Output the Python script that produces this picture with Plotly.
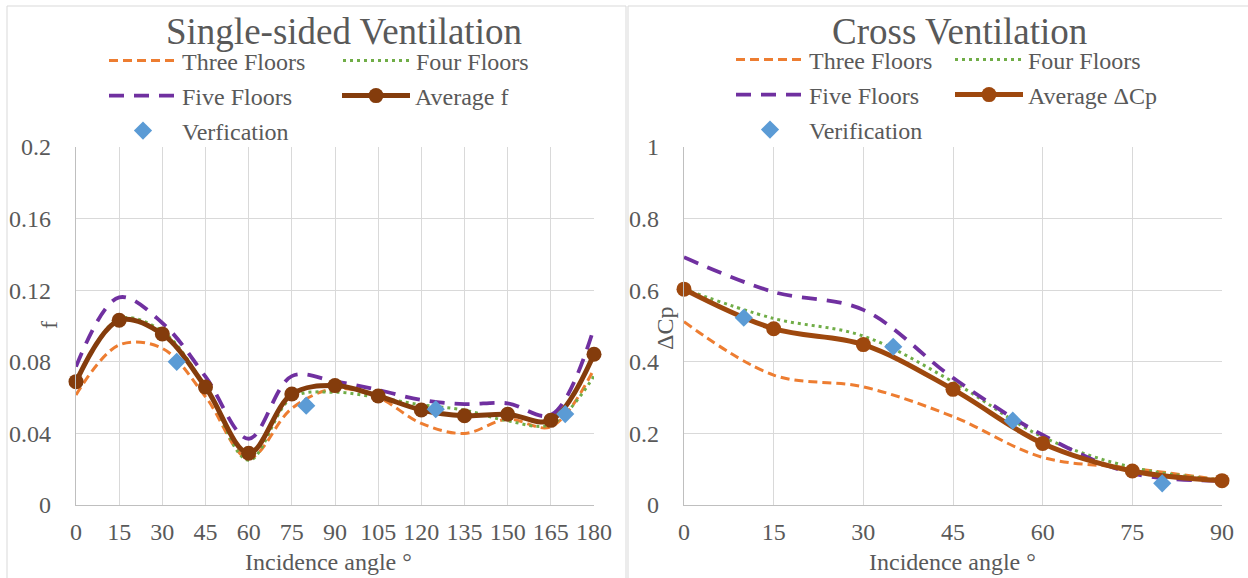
import plotly.graph_objects as go

# ---------------- data ----------------
angles_single = [0, 15, 30, 45, 60, 75, 90, 105, 120, 135, 150, 165, 180]
single_three = [0.0615, 0.0894, 0.0875, 0.0605, 0.0261, 0.054, 0.065, 0.060, 0.0456, 0.040, 0.048, 0.0437, 0.076]
single_four = [0.068, 0.104, 0.097, 0.066, 0.025, 0.060, 0.063, 0.060, 0.056, 0.053, 0.047, 0.045, 0.072]
single_five = [0.0773, 0.116, 0.1017, 0.0717, 0.037, 0.072, 0.069, 0.0643, 0.0587, 0.0564, 0.0568, 0.0503, 0.099]
single_avg = [0.0689, 0.1032, 0.0955, 0.0659, 0.0289, 0.062, 0.0667, 0.0609, 0.0531, 0.0499, 0.0507, 0.0473, 0.0842]
single_verif_x = [35, 80, 125, 170]
single_verif_y = [0.080, 0.0555, 0.0535, 0.0508]
single_yticks = [0, 0.04, 0.08, 0.12, 0.16, 0.2]
single_yticktext = ["0", "0.04", "0.08", "0.12", "0.16", "0.2"]

angles_cross = [0, 15, 30, 45, 60, 75, 90]
cross_three = [0.512, 0.363, 0.330, 0.247, 0.133, 0.1025, 0.070]
cross_four = [0.603, 0.521, 0.472, 0.344, 0.190, 0.105, 0.070]
cross_five = [0.692, 0.595, 0.545, 0.355, 0.1955, 0.0885, 0.068]
cross_avg = [0.603, 0.4925, 0.448, 0.323, 0.172, 0.095, 0.068]
cross_verif_x = [10, 35, 55, 80]
cross_verif_y = [0.523, 0.442, 0.2355, 0.0606]
cross_yticks = [0, 0.2, 0.4, 0.6, 0.8, 1]
cross_yticktext = ["0", "0.2", "0.4", "0.6", "0.8", "1"]

W, H = 1248, 578
FONT = "Liberation Serif"
TXT = "#595959"
ORANGE = "#ED7D31"
GREEN = "#70AD47"
PURPLE = "#7030A0"
BROWN_L = "#843C0C"
BROWN_R = "#9E480E"
BLUE = "#5B9BD5"


def px_x(p):
    return p / W


def px_y(p):
    return 1 - p / H


fig = go.Figure()


def add_series(xs, ys, name, color, dash, width, legend, axis, mode="lines", marker=None):
    kw = dict(x=xs, y=ys, name=name, mode=mode, legend=legend,
              xaxis=axis[0], yaxis=axis[1], cliponaxis=False, hoverinfo="skip")
    if "lines" in mode:
        kw["line"] = dict(color=color, dash=dash, width=width, shape="spline", smoothing=1.0)
    if marker is not None:
        kw["marker"] = marker
    fig.add_trace(go.Scatter(**kw))


# Left chart
ax1 = ("x", "y")
add_series(angles_single, single_three, "Three Floors", ORANGE, "9px,5px", 3, "legend", ax1)
add_series(angles_single, single_four, "Four Floors", GREEN, "3px,4px", 3, "legend2", ax1)
add_series(angles_single, single_five, "Five Floors", PURPLE, "15px,10px", 3.8, "legend3", ax1)
add_series(angles_single, single_avg, "Average f", BROWN_L, None, 5, "legend4", ax1,
           mode="lines+markers", marker=dict(symbol="circle", size=15, color=BROWN_L))
add_series(single_verif_x, single_verif_y, "Verfication", BLUE, None, 0, "legend5", ax1,
           mode="markers", marker=dict(symbol="diamond", size=14, color=BLUE))

# Right chart
ax2 = ("x2", "y2")
add_series(angles_cross, cross_three, "Three Floors", ORANGE, "9px,5px", 3, "legend6", ax2)
add_series(angles_cross, cross_four, "Four Floors", GREEN, "3px,4px", 3, "legend7", ax2)
add_series(angles_cross, cross_five, "Five Floors", PURPLE, "15px,10px", 3.8, "legend8", ax2)
add_series(angles_cross, cross_avg, "Average \u0394Cp", BROWN_R, None, 5, "legend9", ax2,
           mode="lines+markers", marker=dict(symbol="circle", size=15, color=BROWN_R))
add_series(cross_verif_x, cross_verif_y, "Verification", BLUE, None, 0, "legend10", ax2,
           mode="markers", marker=dict(symbol="diamond", size=14, color=BLUE))

axis_common = dict(
    showgrid=True, gridcolor="#D9D9D9", gridwidth=1.3,
    showline=True, linecolor="#BFBFBF", linewidth=1.3,
    zeroline=False, ticks="", tickfont=dict(family=FONT, size=24, color=TXT),
    tickangle=0, fixedrange=True, automargin=False,
)

layout = dict(
    template="none",
    width=W, height=H, autosize=False,
    margin=dict(l=0, r=0, t=0, b=0, pad=0, autoexpand=False),
    paper_bgcolor="white", plot_bgcolor="white",
    font=dict(family=FONT, color=TXT, size=24),
    xaxis=dict(domain=[px_x(76), px_x(594)], range=[0, 180], tickmode="array",
               tickvals=angles_single, ticklabelstandoff=5, anchor="y", **axis_common),
    yaxis=dict(domain=[px_y(505), px_y(147)], range=[0, 0.2], tickmode="array",
               tickvals=single_yticks, ticktext=single_yticktext, ticklabelstandoff=19,
               anchor="x", **axis_common),
    xaxis2=dict(domain=[px_x(684), px_x(1222)], range=[0, 90], tickmode="array",
                tickvals=angles_cross, ticklabelstandoff=5, anchor="y2", **axis_common),
    yaxis2=dict(domain=[px_y(505), px_y(147)], range=[0, 1], tickmode="array",
                tickvals=cross_yticks, ticktext=cross_yticktext, ticklabelstandoff=19,
                anchor="x2", **axis_common),
    showlegend=True,
)

# legends: one entry each, positioned like the original grid
legend_pos = {
    "legend": (104, 61), "legend2": (338, 61), "legend3": (104, 96),
    "legend4": (337, 96), "legend5": (104, 131),
    "legend6": (731, 60), "legend7": (950, 60), "legend8": (731, 95),
    "legend9": (950, 95), "legend10": (731, 130),
}
for key, (lx, ly) in legend_pos.items():
    layout[key] = dict(x=px_x(lx), y=px_y(ly), xanchor="left", yanchor="middle",
                       xref="paper", yref="paper", orientation="v",
                       bgcolor="rgba(0,0,0,0)", itemwidth=68,
                       font=dict(family=FONT, size=24, color=TXT))

fig.update_layout(**layout)

annotations = [
    dict(text="Single-sided Ventilation", x=px_x(344), y=px_y(32), font=dict(size=37)),
    dict(text="Cross Ventilation", x=px_x(959), y=px_y(32), font=dict(size=37)),
    dict(text="Incidence angle \u00b0", x=px_x(328), y=px_y(562), font=dict(size=24)),
    dict(text="Incidence angle \u00b0", x=px_x(953), y=px_y(562), font=dict(size=24)),
    dict(text="f", x=px_x(49), y=px_y(325), textangle=-90, font=dict(size=24)),
    dict(text="\u0394Cp", x=px_x(665), y=px_y(329), textangle=-90, font=dict(size=24)),
]
for a in annotations:
    a.update(xref="paper", yref="paper", xanchor="center", yanchor="middle",
             showarrow=False)
    a["font"].update(family=FONT, color=TXT)
fig.update_layout(annotations=annotations)

fig.update_layout(shapes=[
    dict(type="rect", xref="paper", yref="paper", x0=px_x(7), x1=px_x(626),
         y0=-0.2, y1=px_y(6), line=dict(color="#D9D9D9", width=1), layer="below"),
    dict(type="rect", xref="paper", yref="paper", x0=px_x(628), x1=1.2,
         y0=-0.2, y1=px_y(6), line=dict(color="#D9D9D9", width=1), layer="below"),
])

fig.write_html("out.html")
